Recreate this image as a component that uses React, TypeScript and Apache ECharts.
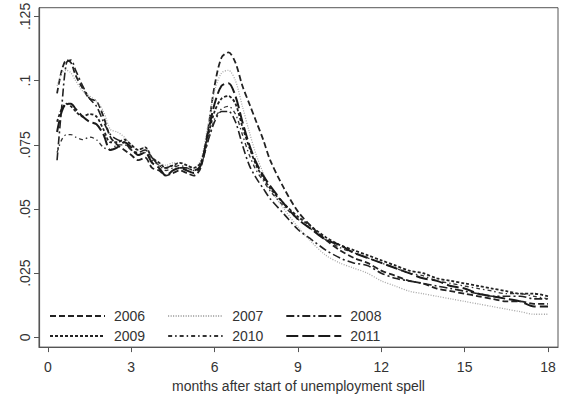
import React, { useEffect, useRef } from "react";
import * as echarts from "echarts";

const months = [0.33,0.5,0.67,0.83,1,1.25,1.5,1.75,2,2.25,2.5,2.75,3,3.25,3.5,3.75,4,4.25,4.5,4.75,5,5.25,5.5,5.75,6,6.25,6.5,6.75,7,7.25,7.5,7.75,8,8.5,9,9.5,10,10.5,11,11.5,12,12.5,13,13.5,14,14.5,15,15.5,16,16.5,17,17.5,18];

const y2006 = [.095,.104,.108,.107,.102,.097,.093,.092,.086,.078,.075,.073,.071,.069,.070,.066,.065,.063,.064,.065,.064,.063,.066,.080,.098,.109,.111,.107,.098,.091,.084,.077,.069,.058,.049,.043,.038,.034,.031,.029,.026,.024,.022,.021,.019,.018,.017,.016,.015,.014,.014,.013,.013];
const y2007 = [.098,.103,.104,.103,.100,.096,.094,.092,.088,.081,.080,.078,.075,.073,.074,.070,.068,.067,.068,.068,.067,.066,.069,.082,.096,.103,.104,.100,.090,.080,.071,.064,.058,.050,.043,.037,.032,.029,.027,.025,.022,.020,.018,.017,.016,.015,.014,.013,.012,.011,.010,.009,.009];
const y2008 = [.069,.090,.107,.108,.104,.098,.093,.090,.084,.079,.077,.076,.073,.072,.073,.070,.067,.066,.067,.066,.066,.065,.067,.076,.084,.088,.088,.084,.075,.067,.062,.058,.054,.048,.042,.038,.034,.031,.029,.028,.025,.023,.022,.021,.020,.019,.018,.017,.016,.016,.016,.015,.015];
const y2009 = [.084,.089,.091,.090,.088,.086,.087,.086,.081,.076,.076,.077,.075,.073,.074,.070,.068,.066,.067,.068,.067,.066,.068,.078,.088,.093,.094,.091,.082,.074,.067,.062,.058,.052,.047,.043,.039,.036,.034,.032,.030,.028,.026,.025,.023,.022,.021,.020,.019,.018,.017,.017,.016];
const y2010 = [.072,.077,.079,.079,.078,.077,.078,.077,.074,.073,.075,.075,.073,.071,.072,.069,.067,.065,.066,.067,.066,.065,.067,.076,.085,.089,.090,.087,.079,.071,.065,.061,.057,.051,.046,.042,.038,.035,.033,.031,.029,.027,.025,.024,.022,.021,.020,.019,.018,.017,.017,.016,.015];
const y2011 = [.080,.088,.091,.091,.089,.086,.084,.083,.079,.073,.074,.076,.074,.071,.072,.068,.066,.063,.065,.066,.065,.064,.067,.079,.091,.098,.099,.094,.084,.075,.068,.063,.059,.052,.046,.042,.038,.036,.033,.031,.029,.027,.025,.023,.022,.020,.019,.017,.016,.015,.014,.012,.012];

const xTicks = [0, 3, 6, 9, 12, 15, 18];
const yTicks = [0, 0.025, 0.05, 0.075, 0.1, 0.125];
const yTickLabels = ["0", ".025", ".05", ".075", ".1", ".125"];
const xTitle = "months after start of unemployment spell";

const seriesDefs = [
  { name: "2006", values: y2006, color: "#222", width: 1.8, dash: [6, 3] },
  { name: "2007", values: y2007, color: "#a8a8a8", width: 1.3, dash: [1, 1.5] },
  { name: "2008", values: y2008, color: "#222", width: 1.6, dash: [8, 3, 2, 3] },
  { name: "2009", values: y2009, color: "#222", width: 1.8, dash: [3, 2] },
  { name: "2010", values: y2010, color: "#333", width: 1.3, dash: [4, 3, 1.5, 3] },
  { name: "2011", values: y2011, color: "#1a1a1a", width: 2, dash: [12, 4] },
];

export default function App() {
  const ref = useRef<HTMLDivElement>(null);
  useEffect(() => {
    if (!ref.current) return;
    const chart = echarts.init(ref.current, null, { renderer: "svg" });
    const font = "'Liberation Sans', Arial, sans-serif";
    const legendCommon = {
      orient: "horizontal" as const,
      itemWidth: 55,
      itemHeight: 14,
      itemGap: 22,
      itemStyle: { color: "transparent", borderColor: "transparent", borderWidth: 0, opacity: 0 },
      textStyle: { fontSize: 14, color: "#333", fontFamily: font, padding: [0, 0, 0, 4] },
    };
    chart.setOption({
      animation: false,
      backgroundColor: "#fff",
      grid: {
        left: 39, right: 3, top: 7, bottom: 44,
        show: true, borderColor: "#555", borderWidth: 1, backgroundColor: "transparent",
      },
      legend: [
        { ...legendCommon, left: 44, top: 304, data: ["2006", "2007", "2008"] },
        { ...legendCommon, left: 44, top: 324, data: ["2009", "2010", "2011"] },
      ],
      xAxis: {
        type: "value",
        min: -0.32,
        max: 18.36,
        splitLine: { show: false },
        axisLine: { show: true, onZero: false, lineStyle: { color: "#555", width: 1.2 } },
        axisTick: { show: true, customValues: xTicks, length: 5, lineStyle: { color: "#555" } },
        axisLabel: {
          customValues: xTicks, fontSize: 14, color: "#333", fontFamily: font, margin: 13,
        },
        name: xTitle,
        nameLocation: "middle",
        nameGap: 25,
        nameTextStyle: { fontSize: 14, color: "#333", fontFamily: font },
      },
      yAxis: {
        type: "value",
        min: -0.0038,
        max: 0.1284,
        splitLine: { show: false },
        axisLine: { show: true, onZero: false, lineStyle: { color: "#555", width: 1.2 } },
        axisTick: { show: true, customValues: yTicks, length: 5, lineStyle: { color: "#555" } },
        axisLabel: {
          customValues: yTicks,
          rotate: 90,
          fontSize: 14,
          color: "#333",
          fontFamily: font,
          margin: 7,
          formatter: (v: number) => {
            const i = yTicks.findIndex((t) => Math.abs(t - v) < 1e-6);
            return i >= 0 ? yTickLabels[i] : "";
          },
        },
      },
      series: seriesDefs.map((s) => ({
        name: s.name,
        type: "line",
        data: months.map((m, i) => [m, s.values[i]]),
        showSymbol: false,
        symbol: "none",
        smooth: 0.3,
        color: s.color,
        lineStyle: { color: s.color, width: s.width, type: s.dash },
      })),
    });
    return () => chart.dispose();
  }, []);
  return (
    <div
      ref={ref}
      style={{ position: "absolute", left: 0, top: 0, width: 561, height: 398 }}
    />
  );
}
